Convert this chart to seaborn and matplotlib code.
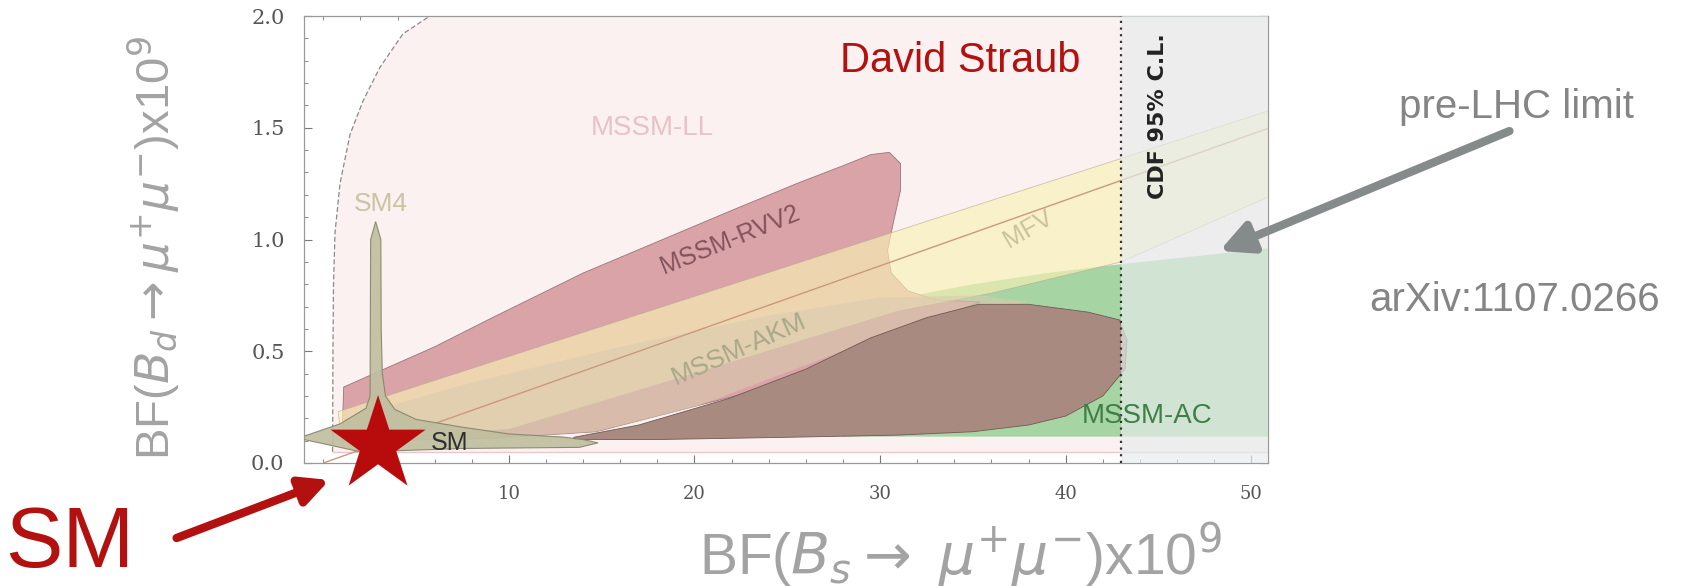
import numpy as np
import matplotlib
matplotlib.use("Agg")
import matplotlib.pyplot as plt
from matplotlib.patches import FancyArrowPatch
import seaborn as sns
import pandas as pd

# ---------------- data (x = BF(Bs->mumu)x1e9, y = BF(Bd->mumu)x1e9) ----------------
ll_x = [0.50, 0.52, 0.55, 0.63, 0.90, 1.44, 2.14, 3.05, 4.29, 5.74]
ll_y = [0.05, 0.50, 0.80, 1.03, 1.25, 1.47, 1.62, 1.77, 1.92, 2.00]

ac_x = [28.0, 50.9, 50.9, 43.0, 39.0, 35.0, 30.0, 24.0]
ac_y = [0.118, 0.118, 0.96, 0.89, 0.85, 0.80, 0.72, 0.55]

rvv2_x = [1.0, 1.1, 6.0, 9.1, 14.0, 18.0, 22.0, 25.5, 28.0, 29.5, 30.5, 31.1, 31.1, 30.7,
          30.4, 30.6, 31.5, 33.0, 35.4, 30.0, 23.6, 14.7, 9.0, 3.0, 1.0]
rvv2_y = [0.10, 0.34, 0.52, 0.65, 0.85, 0.99, 1.13, 1.25, 1.33, 1.38, 1.39, 1.34, 1.22, 1.07,
          0.95, 0.85, 0.77, 0.73, 0.72, 0.56, 0.33, 0.14, 0.11, 0.10, 0.10]

mfv_up_x = [0.8, 50.9]
mfv_up_y = [0.23, 1.575]
mfv_lo_x = [50.9, 43.0, 36.0, 31.0, 20.0, 10.0, 1.0]
mfv_lo_y = [1.19, 0.90, 0.76, 0.68, 0.40, 0.15, 0.10]
mfv_line_x = [0.0, 50.9]
mfv_line_y = [0.0, 1.497]

akm_x = [1.2, 8.0, 16.0, 24.0, 30.0, 35.4, 38.0, 33.0, 27.0, 20.0, 14.7, 9.0, 1.2]
akm_y = [0.20, 0.36, 0.52, 0.66, 0.74, 0.75, 0.72, 0.66, 0.47, 0.25, 0.14, 0.11, 0.10]

brown_x = [13.5, 17.0, 21.9, 26.0, 29.5, 32.5, 35.3, 38.0, 41.2, 42.9, 43.3, 43.2,
           42.0, 40.0, 38.0, 35.0, 31.0, 25.0, 18.0, 13.5]
brown_y = [0.115, 0.17, 0.29, 0.42, 0.56, 0.65, 0.71, 0.71, 0.675, 0.64, 0.55, 0.42,
           0.30, 0.21, 0.17, 0.14, 0.125, 0.115, 0.105, 0.105]

sm4_x = [2.82, 3.10, 3.12, 3.18, 3.35, 3.85, 5.0, 7.5, 10.0, 12.9, 14.0, 14.8, 13.8, 7.5,
         4.0, 2.0, 0.9, -1.04, -1.04, 0.9, 1.5, 2.3, 2.52, 2.55]
sm4_y = [1.08, 1.00, 0.60, 0.40, 0.30, 0.24, 0.195, 0.16, 0.13, 0.116, 0.105, 0.09, 0.07,
         0.065, 0.055, 0.05, 0.07, 0.105, 0.12, 0.175, 0.205, 0.245, 0.30, 1.00]

cdf_limit = 43.0
sm_point_x = [2.95]
sm_point_y = [0.08]

xticks = [10, 20, 30, 40, 50]
yticks = [0.0, 0.5, 1.0, 1.5, 2.0]

# ---------------- figure ----------------
sns.set_theme(style="white")
plt.rcParams['font.family'] = ['Liberation Sans', 'DejaVu Sans']
fig = plt.figure(figsize=(17.06, 5.86), dpi=100)
ax = fig.add_axes([304/1706, 1-463/586, (1268-304)/1706, (463-16)/586])
ax.set_xlim(-1.04, 50.9)
ax.set_ylim(0, 2.0)

# MSSM-LL region
ll_px = ll_x + [50.9, 50.9]
ll_py = ll_y + [2.0, 0.05]
ax.fill(ll_px, ll_py, color='#fcf1f1', lw=0, zorder=1)
ll_df = pd.DataFrame({'x': ll_x, 'y': ll_y})
sns.lineplot(data=ll_df, x='x', y='y', sort=False, color='#8a8a8a', lw=0.9,
             linestyle=(0, (4, 2)), ax=ax, zorder=2)
ax.plot([0.5, 50.9], [0.05, 0.05], color='#e8c8cc', lw=1.0, zorder=2)

# MSSM-AC
ax.fill(ac_x, ac_y, color='#a6d4a3', lw=0, zorder=3)
# MSSM-RVV2
ax.fill(rvv2_x, rvv2_y, facecolor='#d9a3a8', edgecolor='#9a7478', lw=0.6, zorder=4)
# MFV band
mfv_x = mfv_up_x + mfv_lo_x
mfv_y = mfv_up_y + mfv_lo_y
ax.fill(mfv_x, mfv_y, facecolor='#f8f1b5', edgecolor='#b8a890', alpha=0.65, lw=0.6, zorder=5)
# MSSM-AKM
ax.fill(akm_x, akm_y, facecolor='#d9ccb0', alpha=0.6, lw=0, zorder=6)
# brown
ax.fill(brown_x, brown_y, facecolor='#a98a80', edgecolor='#6e5a50', lw=0.6, zorder=7)
# MFV central line
sns.lineplot(x=mfv_line_x, y=mfv_line_y, color='#c99a7a', lw=1.0, ax=ax, zorder=8)
# SM4
ax.fill(sm4_x, sm4_y, facecolor='#c0bfa0', edgecolor='#85856a', alpha=0.92, lw=0.8, zorder=9)

# CDF exclusion
ax.axvspan(cdf_limit, 50.9, color='#e6ecec', alpha=0.68, lw=0, zorder=10)
ax.axvline(cdf_limit, color='#333333', lw=1.6, linestyle=(0, (1, 2)), zorder=11)
ax.text(45.0, 1.55, 'CDF 95% C.L.', rotation=90, ha='center', va='center',
        fontsize=16, fontweight='bold', color='#222222',
        family=['Liberation Sans Narrow', 'DejaVu Sans'], zorder=12)

# labels inside
ax.text(17.7, 1.50, 'MSSM-LL', color='#e8c2c6', fontsize=20, ha='center', va='center', zorder=12)
ax.text(3.1, 1.16, 'SM4', color='#cbc3a3', fontsize=19, ha='center', va='center', zorder=12)
ax.text(21.9, 1.0, 'MSSM-RVV2', color='#84525c', fontsize=18, ha='center', va='center',
        rotation=22, zorder=12)
ax.text(38.0, 1.05, 'MFV', color='#c9c29a', fontsize=18, ha='center', va='center',
        rotation=30, zorder=12)
ax.text(22.4, 0.51, 'MSSM-AKM', color='#a9a98a', fontsize=19, ha='center', va='center',
        rotation=24, zorder=12)
ax.text(44.4, 0.21, 'MSSM-AC', color='#3f7f45', fontsize=20, ha='center', va='center', zorder=12)
ax.text(6.8, 0.09, 'SM', color='#2e2e2e', fontsize=18, ha='center', va='center', zorder=13)
ax.text(34.3, 1.80, 'David Straub', color='#b3110f', fontsize=30, ha='center', va='center', zorder=12)

# SM star
sns.scatterplot(x=sm_point_x, y=sm_point_y, marker='*', s=5200, color='#b80c0c',
                edgecolor='none', ax=ax, zorder=14, clip_on=False)

# axes styling
ax.set_xticks(xticks)
ax.set_yticks(yticks)
ax.set_xticklabels([str(t) for t in xticks])
ax.set_yticklabels([f'{t:.1f}' for t in yticks])
ax.set_xticks(np.arange(0, 51, 2), minor=True)
ax.set_yticks(np.arange(0, 2.01, 0.1), minor=True)
ax.tick_params(which='both', direction='in', top=True, right=True, bottom=True, left=True,
               color='#777777')
ax.tick_params(which='major', length=6, width=0.8, labelcolor='#555555')
ax.tick_params(axis='x', which='major', labelsize=13, pad=16)
ax.tick_params(axis='y', which='major', labelsize=15, pad=14)
ax.tick_params(which='minor', length=3, width=0.6)
for lab in ax.get_xticklabels() + ax.get_yticklabels():
    lab.set_family(['DejaVu Serif'])
for s in ax.spines.values():
    s.set_color('#999999')
    s.set_linewidth(0.9)
ax.set_xlabel('')
ax.set_ylabel('')

# outer labels
fig.text(154/1706, 1-248/586, r'BF($B_d$$\rightarrow$$\mu^{+}\mu^{-}$)x10$^{9}$', rotation=90,
         ha='center', va='center', fontsize=34, color='#a3a3a3')
fig.text(960/1706, 1-555/586, r'BF($B_s$$\rightarrow$ $\mu^{+}\mu^{-}$)x10$^{9}$',
         ha='center', va='center', fontsize=41, color='#a3a3a3')
fig.text(5/1706, 1/586, 'SM', ha='left', va='bottom', fontsize=62, color='#b3110f')
fig.text(1516/1706, 1-107/586, 'pre-LHC limit', ha='center', va='center', fontsize=29, color='#858585')
fig.text(1515/1706, 1-300/586, 'arXiv:1107.0266', ha='center', va='center', fontsize=29, color='#858585')

red_arrow = FancyArrowPatch((174, 586-539), (332, 586-479), transform=None,
                            arrowstyle='-|>', mutation_scale=42, lw=6, color='#b3110f', zorder=20)
fig.patches.append(red_arrow)
grey_arrow = FancyArrowPatch((1512, 586-130), (1217, 586-252), transform=None,
                             arrowstyle='-|>', mutation_scale=48, lw=6, color='#858b8b', zorder=20)
fig.patches.append(grey_arrow)

fig.savefig('out.png', dpi=100)
